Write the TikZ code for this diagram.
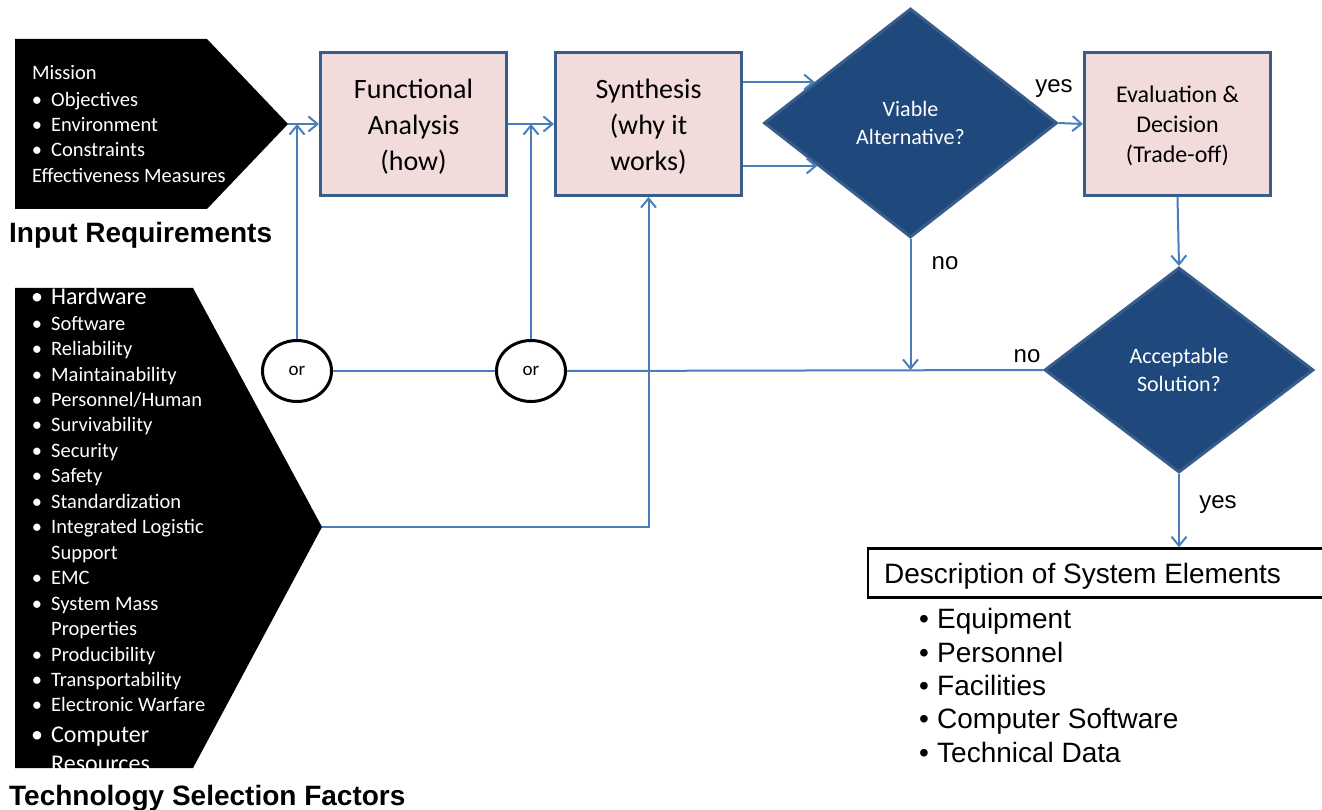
\documentclass[tikz,border=0pt]{standalone}
\usepackage{fontspec}
\setmainfont{Carlito}
\newfontfamily\arialfont{Liberation Sans}
\usetikzlibrary{shapes.geometric,arrows.meta,calc}
\definecolor{boxfill}{HTML}{F2DCDB}
\definecolor{boxline}{HTML}{385D8A}
\definecolor{decfill}{HTML}{1F497D}
\definecolor{wire}{HTML}{4A7EBB}

\begin{document}
\begin{tikzpicture}[x=1pt,y=-1pt,
  stepbox/.style={rectangle, draw=boxline, fill=boxfill, line width=3pt,
    minimum width=186pt, minimum height=143pt, inner sep=0pt},
  boxtext/.style={inner sep=0pt, align=center},
  decision/.style={diamond, draw=boxline, fill=decfill, line width=3pt,
    inner sep=0pt, align=center, text=white,
    font=\fontsize{22}{28}\selectfont},
  orgate/.style={ellipse, draw=black, fill=white, line width=3pt,
    minimum width=69pt, minimum height=61pt, inner sep=0pt,
    font=\fontsize{19}{22}\selectfont},
  wt/.style={anchor=west, inner sep=0pt, text height=13pt, text depth=0pt,
    text=white, font=\fontsize{20.5}{24}\selectfont},
  wtbig/.style={wt, text height=15.5pt, font=\fontsize{24}{28}\selectfont},
  wdot/.style={wt, anchor=center},
  wdotbig/.style={wtbig, anchor=center},
  heading/.style={anchor=west, inner sep=0pt, text height=20pt, text depth=0pt,
    font=\arialfont\bfseries\fontsize{28}{32}\selectfont},
  elem/.style={anchor=west, inner sep=0pt, text height=20pt, text depth=0pt,
    font=\arialfont\fontsize{28}{32}\selectfont},
  edot/.style={elem, anchor=center},
  answer/.style={inner sep=0pt, text height=13pt, text depth=0pt,
    font=\arialfont\fontsize{24}{28}\selectfont},
  wire/.style={draw=wire, line width=2pt},
  arr/.style={wire, -{Straight Barb[length=9pt,width=15pt]}}
]
\useasboundingbox (0,0) rectangle (1322,810);

% ---------- input requirements ----------
\fill[black] (15,39) -- (207,39) -- (288,124) -- (207,209) -- (15,209) -- cycle;
\coordinate (inpt) at (288,124);
\node[wt] (mis) at (32,73) {Mission};
\node[wdot] (mb1) at (37,100) {\textbullet};
\node[wt] (mi1) at (51,100) {Objectives};
\node[wdot] (mb2) at (37,125) {\textbullet};
\node[wt] (mi2) at (51,125) {Environment};
\node[wdot] (mb3) at (37,150) {\textbullet};
\node[wt] (mi3) at (51,150) {Constraints};
\node[wt] (eff) at (32,176) {Effectiveness Measures};
\node[heading] (inreq) at (9,233) {Input Requirements};

% ---------- technology selection factors ----------
\fill[black] (15,288) -- (193,288) -- (322,527) -- (193,768) -- (15,768) -- cycle;
\coordinate (tspt) at (322,527);
\node[wdotbig] (tb1) at (37,297) {\textbullet};
\node[wtbig] (ti1) at (51,297) {Hardware};
\node[wdot] (tb2) at (37,324) {\textbullet};
\node[wt] (ti2) at (51,324) {Software};
\node[wdot] (tb3) at (37,349) {\textbullet};
\node[wt] (ti3) at (51,349) {Reliability};
\node[wdot] (tb4) at (37,375) {\textbullet};
\node[wt] (ti4) at (51,375) {Maintainability};
\node[wdot] (tb5) at (37,400) {\textbullet};
\node[wt] (ti5) at (51,400) {Personnel/Human};
\node[wdot] (tb6) at (37,425) {\textbullet};
\node[wt] (ti6) at (51,425) {Survivability};
\node[wdot] (tb7) at (37,451) {\textbullet};
\node[wt] (ti7) at (51,451) {Security};
\node[wdot] (tb8) at (37,476) {\textbullet};
\node[wt] (ti8) at (51,476) {Safety};
\node[wdot] (tb9) at (37,502) {\textbullet};
\node[wt] (ti9) at (51,502) {Standardization};
\node[wdot] (tb10) at (37,527) {\textbullet};
\node[wt] (ti10) at (51,527) {Integrated Logistic};
\node[wt] (ti10b) at (51,553) {Support};
\node[wdot] (tb11) at (37,578) {\textbullet};
\node[wt] (ti11) at (51,578) {EMC};
\node[wdot] (tb12) at (37,604) {\textbullet};
\node[wt] (ti12) at (51,604) {System Mass};
\node[wt] (ti12b) at (51,629) {Properties};
\node[wdot] (tb13) at (37,655) {\textbullet};
\node[wt] (ti13) at (51,655) {Producibility};
\node[wdot] (tb14) at (37,680) {\textbullet};
\node[wt] (ti14) at (51,680) {Transportability};
\node[wdot] (tb15) at (37,705) {\textbullet};
\node[wt] (ti15) at (51,705) {Electronic Warfare};
\node[wdotbig] (tb16) at (37,735) {\textbullet};
\node[wtbig] (ti16) at (51,735) {Computer};
\node[wtbig] (ti16b) at (51,764) {Resources};
\node[heading] (tsf) at (9,795) {Technology Selection Factors};

% ---------- process boxes ----------
\node[stepbox] (fa) at (413.5,124) {};
\node[boxtext, font=\fontsize{28}{36}\selectfont] (fat) at (413.5,127)
  {Functional\\Analysis\\(how)};
\node[stepbox] (syn) at (648.5,124) {};
\node[boxtext, font=\fontsize{28}{36}\selectfont] (synt) at (648.5,127)
  {Synthesis\\(why it\\works)};
\node[stepbox] (ev) at (1177.5,124) {};
\node[boxtext, font=\fontsize{24}{30}\selectfont] (evt) at (1177.5,126)
  {Evaluation \&\\Decision\\(Trade-off)};

% ---------- decisions ----------
\node[decision, minimum width=293pt, minimum height=229pt] (via) at (910.5,123)
  {\rule{0pt}{12pt}Viable\\Alternative?};
\node[decision, minimum width=269pt, minimum height=205pt] (acc) at (1179,370)
  {\rule{0pt}{12pt}Acceptable\\Solution?};

% ---------- or gates ----------
\node[orgate] (or1) at (297,371) {or};
\node[orgate] (or2) at (531,371) {or};

% ---------- system elements ----------
\node[draw=black, line width=2.5pt, minimum width=470pt, minimum height=49pt,
  inner sep=0pt] (desc) at (1103,573) {};
\node[elem] (desct) at (884,573) {Description of System Elements};
\node[edot] (eb1) at (924,618) {\textbullet};
\node[elem] (ei1) at (937,618) {Equipment};
\node[edot] (eb2) at (924,652) {\textbullet};
\node[elem] (ei2) at (937,652) {Personnel};
\node[edot] (eb3) at (924,685) {\textbullet};
\node[elem] (ei3) at (937,685) {Facilities};
\node[edot] (eb4) at (924,718) {\textbullet};
\node[elem] (ei4) at (937,718) {Computer Software};
\node[edot] (eb5) at (924,752) {\textbullet};
\node[elem] (ei5) at (937,752) {Technical Data};

% ---------- connectors ----------
\draw[arr] (inpt) -- (fa.west);
\draw[arr] (or1.north) -- (or1.north |- fa.west);
\draw[arr] (fa.east) -- (syn.west);
\draw[arr] (or2.north) -- (or2.north |- syn.west);
\draw[arr] (tspt) -| (syn.south);

\coordinate (v1) at ($(via.west)!0.353!(via.north)$);
\coordinate (v2) at ($(via.west)!0.37!(via.south)$);
\draw[arr] (v1 -| syn.east) -- (v1);
\draw[arr] (v2 -| syn.east) -- (v2);

\draw[arr] (via.east) -- (ev.west);
\draw[arr] (ev.south) -- (acc.north);

\coordinate (join) at (via.south |- acc.west);
\draw[arr] (via.south) -- (join);
\draw[wire] (acc.west) -- (or2.east);
\draw[wire] (or2.west) -- (or1.east);

\draw[arr] (acc.south) -- (acc.south |- desc.north);

% ---------- answers ----------
\node[answer] (yes1) at (1054,86) {yes};
\node[answer] (no1) at (945,263) {no};
\node[answer] (no2) at (1027,356) {no};
\node[answer] (yes2) at (1218,502) {yes};
\end{tikzpicture}
\end{document}
